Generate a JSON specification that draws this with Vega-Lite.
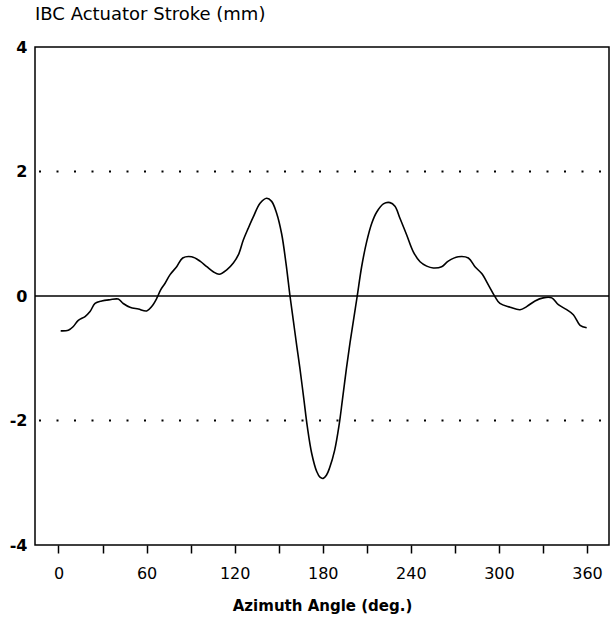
{
  "$schema": "https://vega.github.io/schema/vega-lite/v6.json",
  "width": 574,
  "height": 498,
  "autosize": "none",
  "padding": {"left": 35, "top": 47, "right": 4, "bottom": 86},
  "background": "white",
  "config": {
    "view": {"stroke": "black", "strokeWidth": 1.5},
    "font": "DejaVu Sans"
  },
  "title": {
    "text": "IBC Actuator Stroke (mm)",
    "anchor": "start",
    "frame": "group",
    "offset": 15,
    "fontSize": 18,
    "fontWeight": "normal",
    "font": "DejaVu Sans",
    "color": "black"
  },
  "datasets": {
    "curve": [
      {"angle": 1.5, "stroke": -0.56},
      {"angle": 6.7, "stroke": -0.55},
      {"angle": 10.1, "stroke": -0.49},
      {"angle": 13.5, "stroke": -0.39},
      {"angle": 18.1, "stroke": -0.33},
      {"angle": 21.5, "stroke": -0.25},
      {"angle": 24.9, "stroke": -0.12},
      {"angle": 29.4, "stroke": -0.08},
      {"angle": 35.1, "stroke": -0.06},
      {"angle": 40.7, "stroke": -0.05},
      {"angle": 44.1, "stroke": -0.12},
      {"angle": 48.7, "stroke": -0.18},
      {"angle": 54.4, "stroke": -0.21},
      {"angle": 60.1, "stroke": -0.24},
      {"angle": 63.5, "stroke": -0.17},
      {"angle": 66.9, "stroke": -0.04},
      {"angle": 69.6, "stroke": 0.10},
      {"angle": 72.5, "stroke": 0.20},
      {"angle": 75.9, "stroke": 0.34},
      {"angle": 80.5, "stroke": 0.47},
      {"angle": 84.6, "stroke": 0.61},
      {"angle": 90.7, "stroke": 0.63},
      {"angle": 96.4, "stroke": 0.56},
      {"angle": 101.0, "stroke": 0.47},
      {"angle": 105.4, "stroke": 0.39},
      {"angle": 109.5, "stroke": 0.35},
      {"angle": 114.6, "stroke": 0.42},
      {"angle": 119.1, "stroke": 0.53},
      {"angle": 122.5, "stroke": 0.66},
      {"angle": 125.9, "stroke": 0.90},
      {"angle": 129.3, "stroke": 1.09},
      {"angle": 132.7, "stroke": 1.27},
      {"angle": 137.3, "stroke": 1.49},
      {"angle": 141.8, "stroke": 1.57},
      {"angle": 145.2, "stroke": 1.52},
      {"angle": 148.6, "stroke": 1.33},
      {"angle": 152.0, "stroke": 1.00},
      {"angle": 155.0, "stroke": 0.52},
      {"angle": 157.7, "stroke": 0.0},
      {"angle": 160.0, "stroke": -0.40},
      {"angle": 162.3, "stroke": -0.80},
      {"angle": 164.5, "stroke": -1.17},
      {"angle": 167.2, "stroke": -1.67},
      {"angle": 169.5, "stroke": -2.10},
      {"angle": 172.5, "stroke": -2.53},
      {"angle": 175.9, "stroke": -2.82},
      {"angle": 178.1, "stroke": -2.91},
      {"angle": 180.3, "stroke": -2.93},
      {"angle": 182.5, "stroke": -2.88},
      {"angle": 184.7, "stroke": -2.76},
      {"angle": 188.1, "stroke": -2.48},
      {"angle": 191.1, "stroke": -2.08},
      {"angle": 193.4, "stroke": -1.67},
      {"angle": 196.1, "stroke": -1.17},
      {"angle": 198.6, "stroke": -0.75},
      {"angle": 201.2, "stroke": -0.35},
      {"angle": 203.5, "stroke": 0.0},
      {"angle": 206.5, "stroke": 0.47},
      {"angle": 209.9, "stroke": 0.87},
      {"angle": 213.4, "stroke": 1.17},
      {"angle": 216.8, "stroke": 1.35},
      {"angle": 221.3, "stroke": 1.48},
      {"angle": 225.8, "stroke": 1.50},
      {"angle": 229.2, "stroke": 1.44},
      {"angle": 232.6, "stroke": 1.25},
      {"angle": 237.2, "stroke": 0.98},
      {"angle": 241.7, "stroke": 0.71},
      {"angle": 246.3, "stroke": 0.55},
      {"angle": 250.8, "stroke": 0.48},
      {"angle": 255.3, "stroke": 0.45},
      {"angle": 261.0, "stroke": 0.47},
      {"angle": 265.5, "stroke": 0.56},
      {"angle": 272.3, "stroke": 0.63},
      {"angle": 279.2, "stroke": 0.61},
      {"angle": 283.7, "stroke": 0.47},
      {"angle": 288.3, "stroke": 0.36},
      {"angle": 292.8, "stroke": 0.18},
      {"angle": 297.3, "stroke": -0.01},
      {"angle": 300.7, "stroke": -0.12},
      {"angle": 307.6, "stroke": -0.18},
      {"angle": 314.4, "stroke": -0.22},
      {"angle": 318.9, "stroke": -0.17},
      {"angle": 324.6, "stroke": -0.08},
      {"angle": 330.2, "stroke": -0.03},
      {"angle": 336.0, "stroke": -0.03},
      {"angle": 340.5, "stroke": -0.14},
      {"angle": 346.2, "stroke": -0.22},
      {"angle": 350.7, "stroke": -0.30},
      {"angle": 355.3, "stroke": -0.47},
      {"angle": 359.8, "stroke": -0.51}
    ],
    "dotted": [{"level": 2}, {"level": -2}],
    "zero": [{"level": 0}]
  },
  "layer": [
    {
      "data": {"name": "dotted"},
      "mark": {"type": "rule", "color": "black", "strokeWidth": 2, "strokeDash": [2, 15.5], "strokeDashOffset": -8},
      "encoding": {
        "y": {"field": "level", "type": "quantitative", "scale": {"domain": [-4, 4]}}
      }
    },
    {
      "data": {"name": "zero"},
      "mark": {"type": "rule", "color": "black", "strokeWidth": 1.5},
      "encoding": {
        "y": {"field": "level", "type": "quantitative"}
      }
    },
    {
      "data": {"name": "curve"},
      "mark": {"type": "line", "color": "black", "strokeWidth": 1.6, "interpolate": "catmull-rom"},
      "encoding": {
        "x": {
          "field": "angle",
          "type": "quantitative",
          "scale": {"domain": [-16, 375], "nice": false, "zero": false},
          "axis": {
            "title": "Azimuth Angle (deg.)",
            "values": [0, 30, 60, 90, 120, 150, 180, 210, 240, 270, 300, 330, 360],
            "labelExpr": "datum.value % 60 == 0 ? datum.label : ''",
            "domain": false,
            "grid": false,
            "tickColor": "black",
            "tickSize": 8,
            "tickWidth": 1.5,
            "labelFontSize": 16,
            "labelColor": "black",
            "labelFont": "DejaVu Sans",
            "labelPadding": 12,
            "titleFontSize": 15,
            "titleFontWeight": "bold",
            "titleFont": "DejaVu Sans",
            "titleColor": "black",
            "titlePadding": 17
          }
        },
        "y": {
          "field": "stroke",
          "type": "quantitative",
          "scale": {"domain": [-4, 4], "nice": false},
          "axis": {
            "title": null,
            "values": [-4, -2, 0, 2, 4],
            "labelExpr": "'' + datum.value",
            "domain": false,
            "grid": false,
            "ticks": false,
            "labelFontSize": 16,
            "labelFontWeight": "bold",
            "labelColor": "black",
            "labelFont": "DejaVu Sans",
            "labelPadding": 8
          }
        }
      }
    }
  ]
}
